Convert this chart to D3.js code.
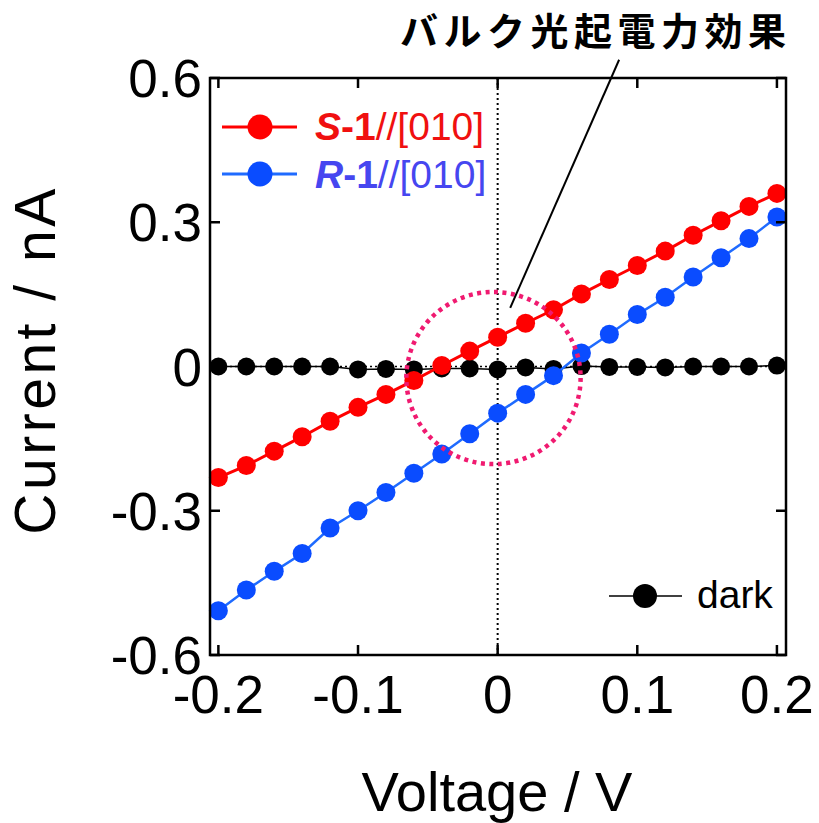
<!DOCTYPE html>
<html>
<head>
<meta charset="utf-8">
<script src="https://cdn.jsdelivr.net/npm/d3@7"></script>
<style>
  body { margin: 0; background: #fff; }
  svg { display: block; font-family: "Liberation Sans", Arial, sans-serif; }
</style>
</head>
<body>
<div id="chart"></div>
<script>
var width = 819,
    height = 823;

var colors =
  { red: "#ff0000",
    redText: "#f01010",
    blue: "#0a4cff",
    blueLine: "#1f6bff",
    blueText: "#4646f0",
    pink: "#f01a70",
    black: "#000"
  };

// data
var voltage = [-0.20, -0.18, -0.16, -0.14, -0.12, -0.10, -0.08, -0.06, -0.04, -0.02,
               0.00, 0.02, 0.04, 0.06, 0.08, 0.10, 0.12, 0.14, 0.16, 0.18, 0.20];
var s1 = [-0.231, -0.206, -0.176, -0.146, -0.114, -0.085, -0.058, -0.029, 0.002, 0.032,
          0.061, 0.090, 0.118, 0.151, 0.181, 0.210, 0.240, 0.273, 0.303, 0.333, 0.360];
var r1 = [-0.508, -0.465, -0.426, -0.389, -0.336, -0.300, -0.262, -0.222, -0.182, -0.140,
          -0.097, -0.058, -0.019, 0.028, 0.067, 0.108, 0.144, 0.186, 0.226, 0.266, 0.311];
var dark = [0.000, 0.000, 0.000, 0.000, 0.000, -0.006, -0.005, -0.006, -0.004, -0.004,
            -0.006, -0.002, -0.005, 0.001, -0.001, -0.001, -0.002, 0.000, 0.000, 0.000, 0.002];

var xTicks = [-0.2, -0.1, 0, 0.1, 0.2];
var xTickLabels = ["-0.2", "-0.1", "0", "0.1", "0.2"];
var yTicks = [0.6, 0.3, 0, -0.3, -0.6];
var yTickLabels = ["0.6", "0.3", "0", "-0.3", "-0.6"];

// highlighted region (circle) and annotation pointer, in data units
var ring = { v: -0.003, i: -0.024, rv: 0.0624, ri: 0.179 };
var pointer = [[0.009, 0.122], [0.087, 0.638]];
var note = "バルク光起電力効果";

var margin = { left: 210, right: 786, top: 78, bottom: 655 };

var x = d3.scaleLinear().domain([-0.206, 0.2065]).range([margin.left, margin.right]);
var y = d3.scaleLinear().domain([-0.6, 0.6]).range([margin.bottom, margin.top]);

var svg = d3.select("#chart").append("svg")
    .attr("width", width)
    .attr("height", height);

// zero reference lines (dotted)
svg.append("line")
    .attr("x1", x(0)).attr("x2", x(0))
    .attr("y1", margin.top).attr("y2", margin.bottom)
    .style("stroke", colors.black).style("stroke-width", 2)
    .style("stroke-dasharray", "2,3");
svg.append("line")
    .attr("x1", margin.left).attr("x2", margin.right)
    .attr("y1", y(0)).attr("y2", y(0))
    .style("stroke", colors.black).style("stroke-width", 1.5)
    .style("stroke-dasharray", "2,3");

var series = [
  { name: "dark", values: dark, line: colors.black, fill: colors.black, lw: 1.5, r: 9 },
  { name: "R-1", values: r1, line: colors.blueLine, fill: colors.blue, lw: 2.5, r: 9.5 },
  { name: "S-1", values: s1, line: colors.red, fill: colors.red, lw: 3, r: 9.5 }
];

var line = d3.line()
    .x(function(d) { return x(d[0]); })
    .y(function(d) { return y(d[1]); });

series.forEach(function(s) {
  var pts = voltage.map(function(v, k) { return [v, s.values[k]]; });
  var g = svg.append("g").attr("class", "series");
  g.append("path")
      .attr("d", line(pts))
      .style("fill", "none")
      .style("stroke", s.line)
      .style("stroke-width", s.lw);
  g.selectAll("circle").data(pts).enter().append("circle")
      .attr("cx", function(d) { return x(d[0]); })
      .attr("cy", function(d) { return y(d[1]); })
      .attr("r", s.r)
      .style("fill", s.fill);
});

// dotted pink ring
svg.append("ellipse")
    .attr("cx", x(ring.v))
    .attr("cy", y(ring.i))
    .attr("rx", x(ring.v + ring.rv) - x(ring.v))
    .attr("ry", y(ring.i - ring.ri) - y(ring.i))
    .style("fill", "none")
    .style("stroke", colors.pink)
    .style("stroke-width", 4.5)
    .style("stroke-dasharray", "4,4.5");

// pointer line + note
svg.append("line")
    .attr("x1", x(pointer[0][0])).attr("y1", y(pointer[0][1]))
    .attr("x2", x(pointer[1][0])).attr("y2", y(pointer[1][1]))
    .style("stroke", colors.black).style("stroke-width", 2);

svg.append("text")
    .attr("x", 400)
    .attr("y", 45)
    .style("font-family", "'Noto Sans CJK JP', sans-serif")
    .style("font-weight", "bold")
    .style("font-size", "38px")
    .style("letter-spacing", "5.5px")
    .text(note);

// frame
svg.append("rect")
    .attr("x", margin.left).attr("y", margin.top)
    .attr("width", margin.right - margin.left)
    .attr("height", margin.bottom - margin.top)
    .style("fill", "none")
    .style("stroke", colors.black)
    .style("stroke-width", 2.5);

// inward ticks on all four sides
var tickLen = 10;
var tk = svg.append("g").style("stroke", colors.black).style("stroke-width", 2.5);
xTicks.forEach(function(t) {
  tk.append("line").attr("x1", x(t)).attr("x2", x(t))
    .attr("y1", margin.bottom).attr("y2", margin.bottom - tickLen);
  tk.append("line").attr("x1", x(t)).attr("x2", x(t))
    .attr("y1", margin.top).attr("y2", margin.top + tickLen);
});
yTicks.forEach(function(t) {
  tk.append("line").attr("y1", y(t)).attr("y2", y(t))
    .attr("x1", margin.left).attr("x2", margin.left + tickLen);
  tk.append("line").attr("y1", y(t)).attr("y2", y(t))
    .attr("x1", margin.right).attr("x2", margin.right - tickLen);
});

// tick labels
svg.selectAll("text.xtick").data(xTicks).enter().append("text")
    .attr("class", "xtick")
    .attr("x", function(d) { return x(d); })
    .attr("y", 713)
    .attr("text-anchor", "middle")
    .style("font-size", "53px")
    .text(function(d, k) { return xTickLabels[k]; });

svg.selectAll("text.ytick").data(yTicks).enter().append("text")
    .attr("class", "ytick")
    .attr("x", 202)
    .attr("y", function(d) { return y(d) + 19; })
    .attr("text-anchor", "end")
    .style("font-size", "53px")
    .text(function(d, k) { return yTickLabels[k]; });

// axis titles
svg.append("text")
    .attr("x", 497)
    .attr("y", 811)
    .attr("text-anchor", "middle")
    .style("font-size", "56px")
    .text("Voltage / V");

svg.append("text")
    .attr("transform", "translate(55,360) rotate(-90)")
    .attr("text-anchor", "middle")
    .style("font-size", "57px")
    .style("letter-spacing", "3.5px")
    .text("Current / nA");

// legend
var legend = [
  { sym: "S", color: colors.red, text: colors.redText, cy: 127, base: 140 },
  { sym: "R", color: colors.blue, text: colors.blueText, cy: 174, base: 188 }
];
legend.forEach(function(l) {
  svg.append("line")
      .attr("x1", 222).attr("x2", 297)
      .attr("y1", l.cy).attr("y2", l.cy)
      .style("stroke", l.color === colors.blue ? colors.blueLine : l.color)
      .style("stroke-width", 3);
  svg.append("circle")
      .attr("cx", 260).attr("cy", l.cy).attr("r", 12.5)
      .style("fill", l.color);
  var t = svg.append("text")
      .attr("x", 315).attr("y", l.base)
      .style("font-size", "39px")
      .style("fill", l.text);
  t.append("tspan").style("font-weight", "bold").style("font-style", "italic").text(l.sym);
  t.append("tspan").style("font-weight", "bold").text("-1");
  t.append("tspan").text("//[010]");
});

svg.append("line")
    .attr("x1", 609).attr("x2", 682)
    .attr("y1", 596).attr("y2", 596)
    .style("stroke", colors.black).style("stroke-width", 1.5);
svg.append("circle")
    .attr("cx", 645).attr("cy", 596).attr("r", 12)
    .style("fill", colors.black);
svg.append("text")
    .attr("x", 697).attr("y", 608)
    .style("font-size", "39px")
    .text("dark");
</script>
</body>
</html>
